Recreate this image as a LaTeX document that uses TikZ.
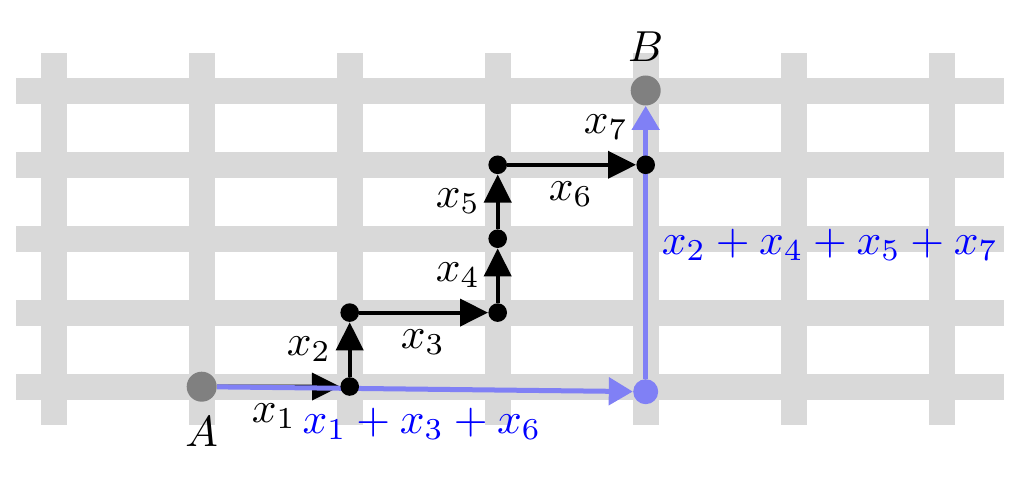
\documentclass[tikz,border=0pt]{standalone}
\usepackage{graphicx}
\usetikzlibrary{arrows.meta,backgrounds}
\definecolor{barcol}{HTML}{D9D9D9}
\definecolor{pathblue}{HTML}{8080F5}
\definecolor{labelblue}{HTML}{0000FF}
\definecolor{endcol}{HTML}{808080}
\newcommand{\lbltext}[1]{\scalebox{2.17}{#1}}
\begin{document}
\begin{tikzpicture}[x=0.5pt,y=-0.5pt,
  gridbar/.style={draw=barcol,line width=13pt},
  endpt/.style={circle,fill=endcol,minimum size=15pt,inner sep=0pt},
  blackdot/.style={circle,fill=black,minimum size=9.3pt,inner sep=0pt},
  bluedot/.style={circle,fill=pathblue,minimum size=12.5pt,inner sep=0pt},
  blackarrow/.style={draw=black,line width=2pt,-{Triangle[length=14pt,width=13.5pt]}},
  bluearrow/.style={draw=pathblue,line width=2.5pt,-{Triangle[length=12pt,width=13.5pt]}},
  lbl/.style={inner sep=0pt},
  bluelbl/.style={lbl,text=labelblue}]
\useasboundingbox (0,0) rectangle (1028,481);
% points
\node[endpt] (A) at (201.7,386.7) {};
\node[endpt] (B) at (645.7,90.5) {};
\node[bluedot] (C) at (645.7,391.7) {};
\node[blackdot] (p1) at (349.7,386.5) {};
\node[blackdot] (p2) at (349.7,312.6) {};
\node[blackdot] (p3) at (497.7,312.6) {};
\node[blackdot] (p4) at (497.7,238.7) {};
\node[blackdot] (p5) at (497.7,164.8) {};
\node[blackdot] (p6) at (645.7,164.8) {};
% labels
\node[lbl] (lA) at (201.7,432) {\lbltext{$A$}};
\node[lbl] (lB) at (645.7,46.5) {\lbltext{$B$}};
\node[lbl] (l1) at (274,416) {\lbltext{$x_1$}};
\node[lbl] (l2) at (309,349) {\lbltext{$x_2$}};
\node[lbl] (l3) at (423,342) {\lbltext{$x_3$}};
\node[lbl] (l4) at (458,275) {\lbltext{$x_4$}};
\node[lbl] (l5) at (458,201) {\lbltext{$x_5$}};
\node[lbl] (l6) at (571,194) {\lbltext{$x_6$}};
\node[lbl] (l7) at (606,127) {\lbltext{$x_7$}};
\node[bluelbl] (s1) at (422,424) {\lbltext{$x_1+x_3+x_6$}};
\node[bluelbl] (s2) at (830,245) {\lbltext{$x_2+x_4+x_5+x_7$}};
\begin{scope}[on background layer]
  \foreach \i in {0,...,6} {
    \draw[gridbar] (53.7+148*\i,53.3) -- (53.7+148*\i,425);
  }
  \foreach \y in {90.9,164.8,238.7,312.6,386.5} {
    \draw[gridbar] (16,\y) -- (1004,\y);
  }
  \draw[blackarrow] (A) -- (p1);
  \draw[blackarrow] (p1) -- (p2);
  \draw[blackarrow] (p2) -- (p3);
  \draw[blackarrow] (p3) -- (p4);
  \draw[blackarrow] (p4) -- (p5);
  \draw[blackarrow] (p5) -- (p6);
  \draw[bluearrow] (A) -- (C);
  \draw[bluearrow] (C) -- (B);
\end{scope}
\end{tikzpicture}
\end{document}
